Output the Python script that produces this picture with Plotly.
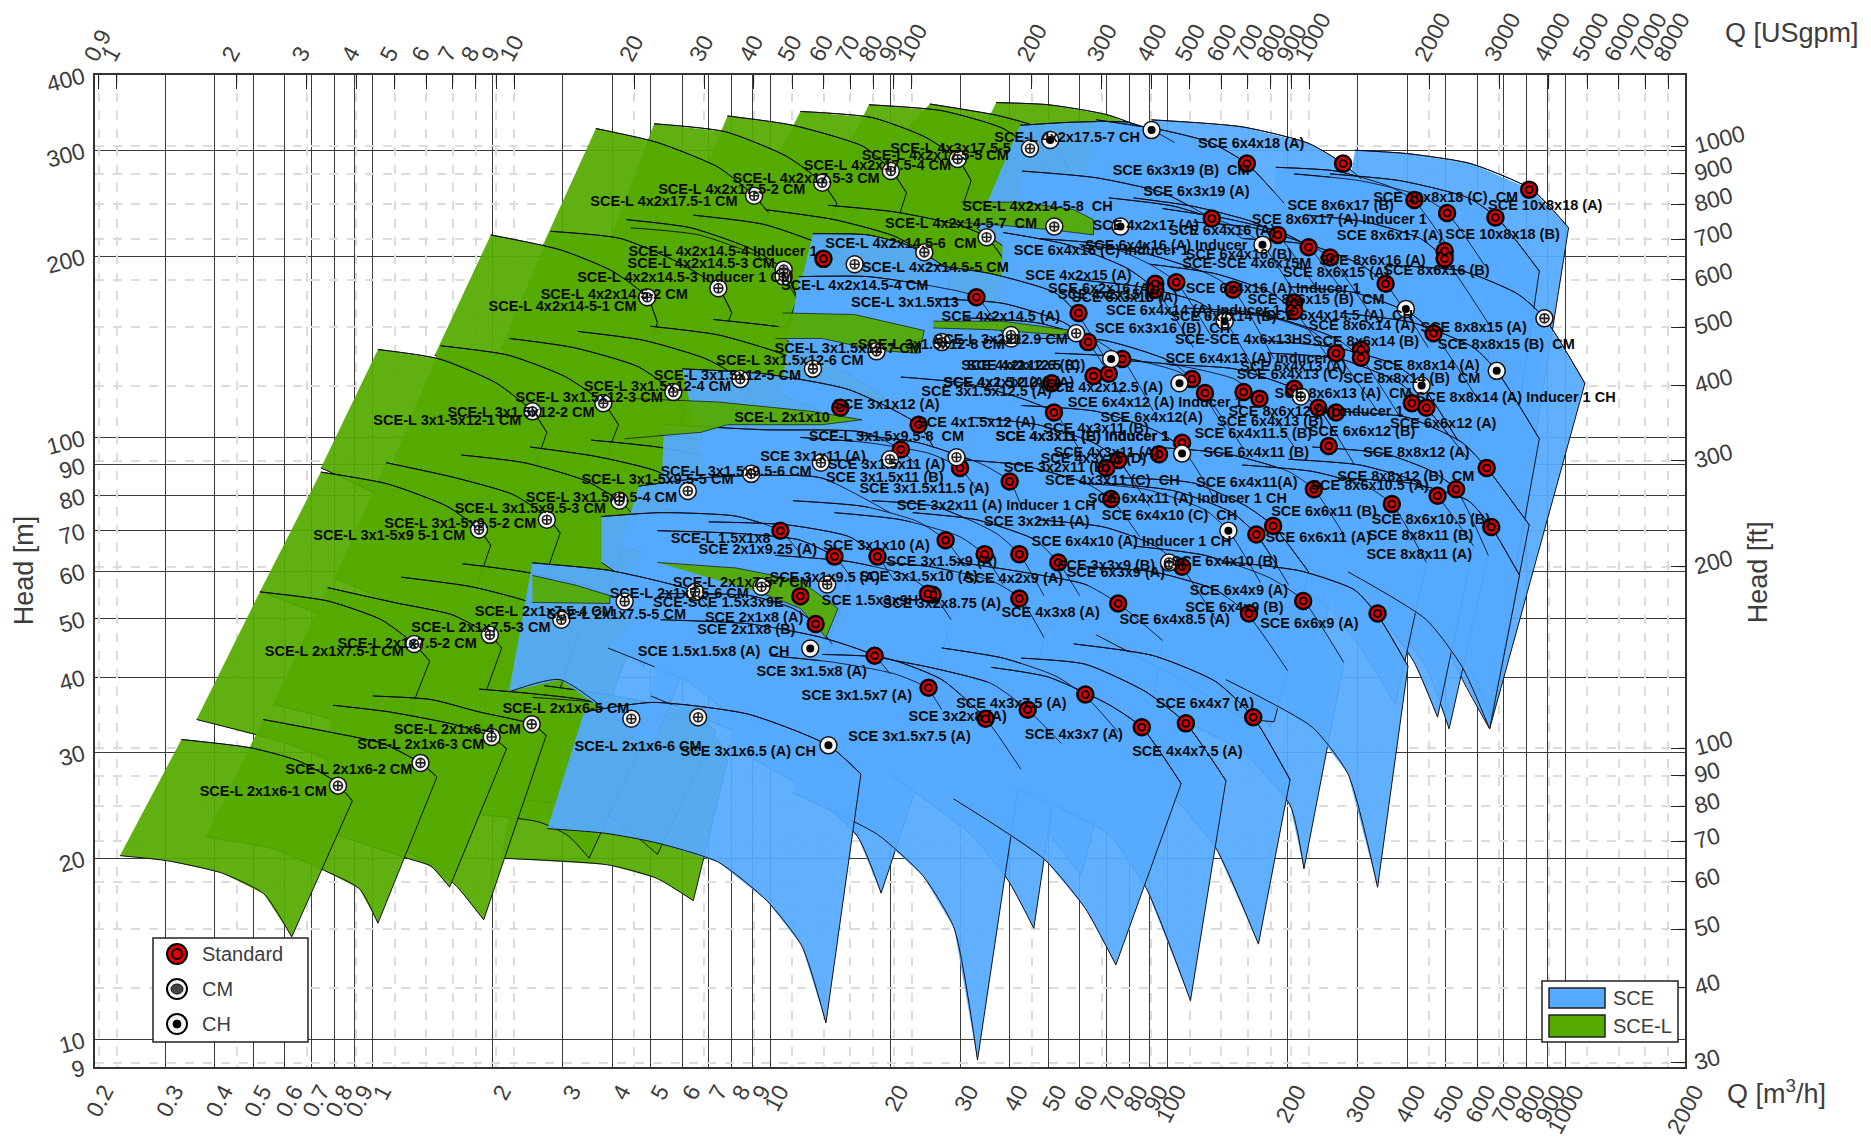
import plotly.graph_objects as go
import math

# ---------- axis ticks ----------
q_ticks = [0.2,0.3,0.4,0.5,0.6,0.7,0.8,0.9,1,2,3,4,5,6,7,8,9,10,20,30,40,50,60,70,80,90,100,200,300,400,500,600,700,800,900,1000,2000]
gpm_ticks = [0.9,1,2,3,4,5,6,7,8,9,10,20,30,40,50,60,70,80,90,100,200,300,400,500,600,700,800,900,1000,2000,3000,4000,5000,6000,7000,8000]
h_ticks = [9,10,20,30,40,50,60,70,80,90,100,200,300,400]
ft_ticks = [30,40,50,60,70,80,90,100,200,300,400,500,600,700,800,900,1000]

# ---------- SCE-L envelopes (Q m3/h, H m) ----------
a1_q=[.33,.494,.652,.805,.888,.625,.532,.417,.305,.231]; a1_h=[31.5,30.5,29,26.8,24.9,14.8,17.45,18.9,19.8,20.2]
a2_q=[.53,.78,1.06,1.318,1.45,1.03,.925,.74,.567,.38]; a2_h=[34,32.4,31,28.8,27.3,15.6,17.8,19.2,20.7,21.7]
a3_q=[.795,1.1,1.62,1.99,2.17,1.56,1.4,1.22,.71]; a3_h=[35.9,35,33.3,31.8,30.4,17.9,19.4,20,22.5]
a4_q=[1,1.4,1.85,2.51,2.73,1.9,1.62,1.4,.925]; a4_h=[37.2,36.7,35,33.4,32,15.8,18,19.4,22.9]
a5_q=[1.85,2.55,3.5,4.47,4.9,3.5,3.1,2.6,1.4]; a5_h=[38.2,37.5,36.5,34.1,32.4,20,21.8,23,24]
a6_q=[2.7,3.8,5.2,6.58,7.3,5.2,4.5,3.7,2.4]; a6_h=[38.7,37.5,36,34.3,32.5,20.3,22,24,25]
a7_q=[2.52,4.2,6.5,7.5,7.8,6.4,5.2,3.9,2.1]; a7_h=[37,36,34,31,29,17,18.5,19.5,20]
b1_q=[.52,.77,1.05,1.27,1.39,.99,.86,.61,.36]; b1_h=[55.4,53.5,49.8,45.4,42.5,24,28.1,31,34]
b2_q=[.77,1.13,1.59,1.96,2.11,1.5,1.3,.93,.56]; b2_h=[56.3,53.2,50.7,47,44.7,24,29,33,36]
b3_q=[1.18,1.77,2.49,2.98,3.28,2.33,1.97,1.38,.86]; b3_h=[58.6,56.5,53.2,49.8,46.5,24.5,28.8,34.3,41]
b4_q=[1.68,2.4,3.5,4.3,4.7,3.3,2.75,1.97,1.23]; b4_h=[61.7,59.8,56.5,53.2,49.8,26.3,30.1,36,43.4]
c1_q=[.74,1.09,1.54,1.85,1.98,1.41,1.2,.86,.52]; c1_h=[87.6,83.7,76.8,70.3,66.2,34.3,40.5,48.6,55.4]
c2_q=[1.08,1.59,2.25,2.74,2.96,2.1,1.77,1.26,.8]; c2_h=[90.8,85.9,80.4,73.9,69.4,36,42.5,51,58.4]
c3_q=[1.67,2.4,3.42,4.17,4.57,3.25,2.68,1.97,1.2]; c3_h=[93.5,90.8,84.8,78.5,73.9,39.6,46.4,54.6,61]
c4_q=[2.49,3.64,5.2,6.2,6.8,4.8,4,2.96,1.83]; c4_h=[96.4,93,87.8,81.5,76.8,41.5,48.6,57,63.7]
c5_q=[3.54,5.2,7.5,8.95,9.6,6.8,5.4,4.2,2.68]; c5_h=[99,96.4,92,87,82,44.7,52,59.8,66]
c6_q=[5.2,7.8,11.4,13.4,14.5,9.9,8.4,6,3.9]; c6_h=[101,98,94,91,85,45,53,61,67]
d1_q=[1.03,1.47,2.05,2.52,2.74,1.93,1.65,1.17,.74]; d1_h=[140,135,123,110.5,102,52,62.2,76.8,89]
d2_q=[1.48,2.19,3.06,3.8,4.15,2.86,2.44,1.77,1.13]; d2_h=[142,137,126,114,105,55.8,66,78.5,92]
d3_q=[2.21,3.2,4.66,5.7,6.1,4.35,3.6,2.68,1.65]; d3_h=[146,141,131,119,110.5,59.8,70,84,96.4]
d4_q=[3.28,4.8,6.9,8.4,9.1,6.6,5.3,4,2.49]; d4_h=[150,145,135,125,115,62.2,73,87.8,101]
d5_q=[5,7.4,10.6,12.8,13.9,9.9,8.2,6,3.76]; d5_h=[153,148,138,130,119,63.7,75,90,103]
d6_q=[7.2,10.3,15.8,18.5,20.2,14,12.2,8.9,5.2]; d6_h=[157,153,146,139,126,67,78.5,94,110.5]
e1_q=[1.98,2.96,4,4.9,5.2,3.76,3.2,2.4,1.43]; e1_h=[217,205,189,171,155,80,94,118,137]
e2_q=[2.8,4.2,5.9,7.4,8,5.3,4.66,3.42,2.1]; e2_h=[220,214,195,177,161,82,94,118,141]
e3_q=[4.35,6.3,8.9,10.8,11.7,8,6.8,5,3.06]; e3_h=[230,223,206,190,170,87.8,103,123,148]
e4_q=[4.45,6.6,9.3,10.8,11.8,8.2,7,5.2,3.2]; e4_h=[223,217,200,185,167,85.7,99,118,141]
e5_q=[6.4,9.6,13.5,16.3,17.4,12.2,10.3,7.5,4.66]; e5_h=[234,226,209,194,174,92,108,126,152]
e6_q=[9.7,14.5,20.5,24.4,27,19.5,16.5,11.8,7.4]; e6_h=[239,230,216,202,183,94,110.5,130,155]
e7_q=[14,20.5,30,35,40,28.5,23.6,18,10.6]; e7_h=[243,237,225,215,191,99,115,135,162]
f1_q=[3.64,5.2,7.4,9.1,9.9,7.1,5.9,4.35,2.68]; f1_h=[326,309,281,252,236,120.5,141,170,209]
f2_q=[5.1,7.7,11,13.5,14.7,10.6,8.9,6.6,3.9]; f2_h=[332,322,293,265,245,126,148,174,209]
f3_q=[7.8,11.4,17.2,20.1,22,16,13.5,9.9,5.9]; f3_h=[342,330,304,278,255,131,155,183,219]
f4_q=[11.9,18,24.4,29.6,32,22.8,20,14.5,8.6]; f4_h=[348,340,316,290,267,138,162,191,228]
f5_q=[17.7,27,38.5,45,48.8,34.4,28.9,22,13.1]; f5_h=[357,349,326,302,281,145,170,200,240]
f6_q=[25.2,37,45.5,51,56,41,34.4,25.2,15]; f6_h=[358,343,330,312,283,155,178,209,250]
f7_q=[37,50,71,91,97,69,58,42.8,28.5]; f7_h=[360,357,343,320,293,162,189,214,255]

# ---------- SCE envelopes ----------
s01_q=[3.4,5.07,8.8,14,16.9,13.8,12,9.8,7.4,5.2,3.85,2.75]; s01_h=[35,36.3,34.7,30.8,27.6,10.65,14.3,17,19.7,21.2,22,22.4]
s02_q=[10,14.5,20.5,24.7,27,19,16.6,12.7,7.8]; s02_h=[43.4,42.3,40.5,38.4,35.3,17.5,21.7,25.7,30.8]
s03_q=[5.3,8.9,13.5,18.2,20,16.6,13.5,9.6,5]; s03_h=[49.8,49,46.5,43.4,40.5,21.7,25.7,30.8,37.2]
s04_q=[2.52,3.9,5.3,6.47,7,5,4.2,2.96,2.2]; s04_h=[61.9,60.2,57.6,55.4,52,30.1,33.7,39.6,37.8]
s05_q=[5.3,8.9,11.4,13,14.3,10.3,8.6,6.3,3.9]; s05_h=[55,54.6,52,49,45.4,29,33,39,44.7]
s06_q=[13.5,19.5,27,34.8,42.7,33.2,29,24.2,18.6,11.4]; s06_h=[43.6,43,39.6,34.1,28.1,9.24,15.3,18.7,21.9,25.7]
s07_q=[17.6,25.2,36,44.4,54,46,39.6,32,19.9]; s07_h=[43.4,41.5,39,35.3,31,15.3,18.4,21.9,27.6]
s08_q=[27,38.5,52,62,75,60.5,49.5,41,25.2]; s08_h=[44.7,43,40.2,37.2,32.4,18.7,22.2,25.1,31.5]
s09_q=[36,50,71,86,108,74,62,49,28.9]; s09_h=[41.5,40,36,33,26.6,13.3,16.5,19.9,25.1]
s10_q=[42.8,62,88,111,140,114,88,71,41]; s10_h=[43,42,37.8,33.5,26.9,11.6,17.9,21.9,26.3]
s11_q=[58,92,132,164,203,169,132,104,58]; s11_h=[45.4,43.4,39.3,34.3,27,14.4,20.8,25.1,31.5]
s12_q=[28.9,42.8,62,75,97,82,71,50,27]; s12_h=[62.2,59.8,57,53,46,22.9,25.1,28.8,34.3]
s13_q=[18,25.2,36,42.3,48.8,41,34.4,27,17.2]; s13_h=[62.2,61,57.8,54.2,46.5,27.6,31.5,36,41.5]
s14_q=[10.3,15.8,22,25.6,28.5,22.8,20,15.8,9.6]; s14_h=[63.7,62.2,59,55,49.8,29,33,37.8,44.7]
s15_q=[62,92,132,158,200,185,154,108,66]; s15_h=[61,59.8,55.8,51,41,33.7,34.3,39.6,47]
s16_q=[82,124,181,219,277,220,203,154,88]; s16_h=[66,63.7,58.4,53.6,42.3,19.2,24.5,30.1,36]
s17_q=[140,216,295,337,402,337,284,231,140]; s17_h=[62.2,60,55.8,50.7,41.7,17.9,27.6,33,39.6]
s18_q=[272,415,570,651,767,645,551,447,284]; s18_h=[85.7,83.8,78.5,71,59,32.8,41.5,49.8,59.8]
s19_q=[231,351,462,531,640,510,447,362,231]; s19_h=[96.4,94,87.8,82,63.7,32.8,41.5,49.8,62.2]
s20_q=[201,304,415,477,588,477,415,337,216]; s20_h=[92,90,84.8,79.7,66,34.3,42.5,51,62]
s21_q=[154,231,315,366,447,374,315,256,164]; s21_h=[90,87.8,83,77.5,62,36,43.4,52,62]
s22_q=[92,140,201,233,279,231,199,164,101]; s22_h=[96.4,94,87.8,82,68.4,39.6,47.8,54.6,66]
s23_q=[265,400,551,634,811,651,570,432,265]; s23_h=[110.5,108,98,89,71.6,34.3,41.5,52,66]
s24_q=[181,272,384,447,570,477,415,326,201]; s24_h=[138,135,123,112,92,45.4,54.6,63.7,78.5]
s25_q=[272,415,588,672,860,704,606,462,284]; s25_h=[161,155,141,129,99.5,47.8,57,68.4,82]
s26_q=[362,551,760,886,1120,645,551,374]; s26_h=[193,189,173,158,123,32.8,39.6,68.4]
s27_q=[296,403,578,824,1019,651,570,432,231]; s27_h=[300,296,285,258,223,34.3,49.8,78.5,123]
s28_q=[91,154,226,276,306,231,194,154,88]; s28_h=[337,328,308,285,269,78.5,118,148,214]
s29_q=[66,97,128,158,196,154,132,104,58]; s29_h=[337,324,309,285,245,85.7,118,148,205]
s30_q=[42.5,58,79,91,104,88,71,54,33]; s30_h=[330,334,334,324,309,135,155,178,223]
s31_q=[43,66,97,129,154,124,104,82,38.5]; s31_h=[277,270,255,231,214,85.7,108,135,178]
s32_q=[187,265,362,417,525,351,326,247,173]; s32_h=[281,277,261,247,200,66,78.5,99,123]
s33_q=[256,384,570,672,860,627,525,374,231]; s33_h=[274,267,250,232,189,45.4,59.8,78.5,99]
s34_q=[208,304,432,504,627,510,432,326,194]; s34_h=[274,267,252,236,193,59.8,75,94,118]
s35_q=[82,116,164,189,239,194,164,124,71]; s35_h=[250,242,228,217,175,62,78.5,99,135]
s36_q=[97,140,194,226,284,231,194,147,88]; s36_h=[240,231,219,207,170,59.8,75,90,123]
s37_q=[116,164,226,256,326,265,226,169,104]; s37_h=[228,223,209,199,159,54.6,68.4,85.7,118]
s38_q=[226,315,432,497,651,551,462,351,216]; s38_h=[234,228,214,198,152,53,62,78.5,103]
s39_q=[154,226,304,353,452,351,295,226,140]; s39_h=[214,209,194,180,141,52,62,75,94]
s40_q=[201,295,406,466,606,462,384,295,181]; s40_h=[178,174,161,149,115,47.8,57,68.4,82]
s41_q=[128,187,265,306,384,304,256,194,119]; s41_h=[162,158,146,135.6,108,49.8,59.8,70,85.7]
s42_q=[112,164,231,265,337,265,226,169,104]; s42_h=[164,161,150,138,110.5,52,62,75,88]
s43_q=[60,88,126,146,185,154,132,104,54]; s43_h=[209,202,187,176,135,72,82,99,123]
s44_q=[90,132,181,208,265,208,173,137,82]; s44_h=[194,187,174,162,130,59.8,72,82,103]
s45_q=[47,69,90,105,128,108,90,71,41]; s45_h=[214,209,194,181,148,72,85.7,99,123]
s46_q=[38.5,56,79,93,116,97,82,64,37]; s46_h=[219,209,191,176,141,68.4,80,92,115]
s47_q=[25,36,52,59,74,62,52,43,24]; s47_h=[194,187,174,161,126,72,82,94,113]
s48_q=[11.8,17.6,26,33,40.4,32,27,22,10.6]; s48_h=[185,185,178,171,141,72,82,94,118]
s49_q=[12.8,17.6,22,24.4,28.5,23.6,20.5,17.2,11]; s49_h=[218,217,209,202,189,103,113,123,145]
s50_q=[6,9.6,15.8,23.6,25.7,18.6,15.8,11.8,7]; s50_h=[130,127.6,120,105,96.4,52,59.8,70,82]
s51_q=[5.4,9.6,17.2,21.3,23.6,17.2,14.5,10.3,5.3]; s51_h=[105,103,102,95.5,89,49.8,57,66,76.8]
s52_q=[11.9,17.6,25.2,30,33,24.4,20.5,15.8,9.6]; s52_h=[100,98,94,89,82,45.4,53,62,71.6]
s53_q=[4.66,6.8,9.6,13.4,20,22,16.5,13.5,10.3,4.2]; s53_h=[83,85.7,86.5,85.7,75,70,41.5,47.8,54.6,66]
s54_q=[16.5,23.6,34.4,40,42.8,31,27,19.9,11.8]; s54_h=[101,98,90,84.5,76.8,41.5,47.8,55.8,62]
s55_q=[3.76,5.3,8.2,10.6,11.7,8.6,7.4,5.3,3.76]; s55_h=[73.9,75,74,70,65,39.6,45.4,53,62]
s56_q=[5.2,8.2,11.8,14.5,16,11.4,9.6,7.4,3.76]; s56_h=[70,69.3,67.6,63.4,58.4,31.5,37,44.7,52]
s57_q=[7,11,15.8,18.6,20.5,14.5,12.7,9.6,5.4]; s57_h=[72.4,71.6,68.4,63.4,57.8,31.5,36,43.4,52]
s58_q=[11.4,17.2,23.6,27.6,31,22.8,19.5,14.5,8.9]; s58_h=[78.5,76.8,72.4,67.5,61,34.3,39.6,46.5,55.8]
s59_q=[14.5,21.3,30,34.4,38.5,28.5,23.6,17.6,11.4]; s59_h=[75,73,68.4,64,57,31.5,36,43.4,52]
s60_q=[18,26,37,42.3,48.8,34.4,28.9,22.8,14.5]; s60_h=[78.5,76.8,69.3,64,54.6,33,36,43.4,52]
s61_q=[22.8,33,46.3,53,60,50,41,31,19.9]; s61_h=[75,73,67.6,62,54.6,31.5,36,41.5,49.8]
s62_q=[47,69,92,108,132,108,90,69,41]; s62_h=[73,71,66.3,61,49.8,27.6,31.5,37,45.4]
s63_q=[69,104,145,167,201,158,132,104,64]; s63_h=[84,81.5,75,69,57,30.1,34.3,40.5,49.8]
s64_q=[76,116,158,184,226,181,154,119,71]; s64_h=[85.7,84,76.8,71.3,59.8,33,37.8,43.4,52]
s65_q=[28.9,42.5,62,72,85,66,56,42.5,27]; s65_h=[92,90,84,79,68.4,39.6,45.4,53,62]
s66_q=[42.8,66,92,108,132,104,88,69,41]; s66_h=[113,110.5,103,96.4,78.5,41.5,48.6,57,68.4]
s67_q=[32,47,65,75,90,74,62,47,28.9]; s67_h=[108,105,98,91.7,76.8,45.4,52,59.8,71.6]
s68_q=[21.3,31,43,51.7,62,50,42.5,32,19.9]; s68_h=[126,123,116,110,92,54.6,62,71.6,82]
s69_q=[31,47,66,76.8,92,74,62,47,28.9]; s69_h=[158,155,145,135,110.5,57,67,78.5,92]
s70_q=[26,38.5,55,63,76,60,50,38.5,23.6]; s70_h=[170,167,155,144,118,62,71.6,84,99]
s71_q=[52,76,108,124,154,119,101,79,47]; s71_h=[138,136,128,118,96.4,51,59.8,70,82]
s72_q=[69,104,147,170,208,164,137,108,64]; s72_h=[135,132,125,116,96.4,52,59.8,70,82]
s73_q=[101,147,208,239,295,231,194,154,90]; s73_h=[132,130,120.5,112,90,49.8,57,67,78.5]
s74_q=[47,69,101,115,140,116,97,74,42.8]; s74_h=[146,145,134,125,103,57,67,76.8,90]
s75_q=[173,265,374,435,536,432,362,272,164]; s75_h=[145,141,132,122,99,52,59.8,71.6,85.7]
s76_q=[58,85,119,139,169,137,116,88,54]; s76_h=[183,178,168,156,126,66,76.8,90,105]
s77_q=[60,88,124,142,171,137,116,90,56]; s77_h=[84,82,75.8,70,57.4,31.5,36,43.4,52]
s78_q=[71,104,150,173,216,169,140,108,64]; s78_h=[250,242,223,209,167,72,85.7,103,132]

# ---------- SCE-L patches lying over SCE ----------
g1_q=[2.52,3.25,3.95,3.95,2.52]; g1_h=[59,56.8,54.6,53,53.2]
g2_q=[4.57,7.4,12.7,17,13.5,7.8,6.7,4.3]; g2_h=[116,114.5,110.5,107,105,105,102,99.5]
g3_q=[5.2,8.2,11.9,14.8,13.8,11.9,9.6]; g3_h=[62,60.7,57.8,52,46.5,52,55]
g4_q=[30.2,42.8,58,65,65,52,38.5,28.9]; g4_h=[246,246,239,230,217,221,225,228]
g5_q=[10.7,16.3,24.4,23.6,18.6,13.5,10.3]; g5_h=[161,160,150.5,138,139.5,146,146]
g6_q=[25.7,38.5,57.5,54,36,25.7]; g6_h=[156,156,150.5,148,151,152]

# ---------- duty points ----------
std_q=[158,276,811,417,504,667,129,189,226,256,497,497,353,93,93,105,146,33,59.6,208,208,466,63,76.8,265,306,306,115,65,71,51,124,155,170,208,239,265,411,447,51.7,254,108.6,95,75,70,634,30,40,72,233,366,477,531,651,184,167,27.6,34.6,42.3,53,108.6,42.3,25.6,75,219,160,337,62,44.4,34.8,86,111,164,25,13.6,15,23.6,21.3,10.6,14.5,18.6,11.9,13,18.3,24.9]
std_h=[285,285,258,248,236,232,231,217,207,199,204,198,180,180,176,181,176,171,161,167.5,162,149,144,135,138,140,135.6,125,126.5,127.6,123,118.5,119,116,120.5,112,110,114,112,110,96.8,98,93.8,91.7,89,89,89,84.5,79,82,77.5,80,82,71,71.3,69,67.5,64,64,62,61,54,54.8,53,53.5,51,51,37.4,35.3,34.1,33,33.5,34.3,38.4,198,112,105,95.5,70,63.4,63.4,54.5,49,43.4,55]
cm_q=[.817,1.318,1.99,2.51,4.47,6.58,1.27,1.97,2.98,4.3,6.47,9.5,13.9,1.85,2.74,4.17,6.2,8.95,13.4,20,2.52,3.8,5.7,8.4,12.8,18.5,27,40.4,29.4,4.9,7.4,10.8,10.8,16.3,24.4,9.1,13.5,20.1,29.6,45,51.8,35,886,58.8,40.3,216,100.7]
cm_h=[26.4,28.8,31.8,33.4,34.1,34.3,45.4,47,49.8,53.4,55.4,56.5,57,70.3,73,78.5,81.5,87,90.8,92,110.5,114,119,125,130,139,144,146,92.7,171,177,190,185,194,203,252,265,277,290,302,224,215,157.7,149,148,117,62]
ch_q=[50.6,91,76,173,397,672,435,139,72,107,108.6,142,12.6,14]
ch_h=[312,324,224,209,163.5,129,122,156,135,123,94,70,44.6,30.8]

# ---------- labels ----------
label_text=["SCE-L 2x1x6-1 CM","SCE-L 2x1x6-2 CM","SCE-L 2x1x6-3 CM","SCE-L 2x1x6-4 CM","SCE-L 2x1x6-5 CM","SCE-L 2x1x6-6 CM","SCE 3x1x6.5 (A) CH","SCE 3x1.5x7.5 (A)","SCE 3x2x8 (A)","SCE 3x1.5x7 (A)","SCE 3x1.5x8 (A)","SCE 1.5x1.5x8 (A)  CH","SCE 2x1x8 (B)","SCE 2x1x8 (A)","SCE-SCE 1.5x3x9E","SCE 1.5x3x9H","SCE 3x1x9.5 (A)","SCE-L 2x1x7.5-7 CM","SCE-L 2x1x7.5-6 CM","SCE-L 2x1x7.5-5 CM","SCE-L 2x1x7.5-4 CM","SCE-L 2x1x7.5-3 CM","SCE-L 2x1x7.5-2 CM","SCE-L 2x1x7.5-1 CM",
"SCE-L 3x1-5x9 5-1 CM","SCE-L 3x1-5x9.5-2 CM","SCE-L 3x1.5x9.5-3 CM","SCE-L 3x1.5x9.5-4 CM","SCE-L 3x1-5x9.5-5 CM","SCE-L 3x1.5x9.5-6 CM","SCE 3x1x11 (A)","SCE-L 3x1.5x9.5-8  CM","SCE 3x1.5x11 (A)","SCE 3x1.5x11 (B)","SCE 3x1.5x11.5 (A)","SCE 3x2x11 (A) Inducer 1 CH","SCE 3x2x11 (A)",
"SCE-L 3x1-5x12-1 CM","SCE-L 3x1.5x12-2 CM","SCE-L 3x1.5x12-3 CM","SCE-L 3x1.5x12-4 CM","SCE-L 3x1.5x12-5 CM","SCE-L 3x1.5x12-6 CM","SCE-L 3x1.5x12-7 CM","SCE-L 3x1.5x12-8 CM","SCE-L 3x2x12.9 CM","SCE 3x1x12 (A)","SCE-L 2x1x10","SCE 4x1.5x12 (A)","SCE 4x3x11 (B) Inducer 1",
"SCE-L 4x2x14.5-4 Inducer 1","SCE-L 4x2x14.5-3 CM","SCE-L 4x2x14.5-3 Inducer 1 CM","SCE-L 4x2x14.5-2 CM","SCE-L 4x2x14-5-1 CM","SCE-L 3x1.5x13","SCE-L 4x2x14.5-4 CM","SCE-L 4x2x14.5-5 CM","SCE-L 4x2x14.5-6  CM","SCE 4x2x14.5 (A)",
"SCE-L 4x2x17.5-1 CM","SCE-L 4x2x17.5-2 CM","SCE-L 4x2x17.5-3 CM","SCE-L 4x2x17.5-4 CM","SCE-L 4x3x17.5-5","SCE-L 4x2x17.5-5 CM","SCE-L 4x2x17.5-7 CH","SCE 6x4x18 (A)","SCE 6x3x19 (B)  CM","SCE 6x3x19 (A)","SCE-L 4x2x14-5-8  CH","SCE-L 4x2x14-5-7  CM","SCE 4x2x17 (A)","SCE 6x4x16 (A)","SCE 8x6x17 (B)","SCE 8x6x17 (A) Inducer 1","SCE 8x6x17 (A)","SCE 10x8x18 (C)  CM","SCE 10x8x18 (A)","SCE 10x8x18 (B)",
"SCE 6x4x16 (A) Inducer","SCE 6x4x16 (C) Inducer 1","SCE 6x4x16 (B)","SCE-SCE 4x6x15M","SCE 8x6x16 (A)","SCE 8x6x16 (B)","SCE 8x6x15 (A)","SCE 4x2x15 (A)","SCE 6x2x16 (A)","SCE 4x2x15 (B)","SCE 6x3x16 (A)","SCE 6x4x16 (A) Inducer 1","SCE 8x6x15 (B)  CM","SCE 6x4x14.5 (A)  CH","SCE 6x4x14 (A) Inducer 1","SCE 6x3x16 (B)  CH","SCE 6x4x14 (B)","SCE 8x6x14 (A)","SCE 8x6x14 (B)","SCE 8x8x15 (A)","SCE 8x8x15 (B)  CM","SCE-SCE 4x6x13HS","SCE 6x4x13 (A) Inducer","SCE 6x4x13 (A)","SCE 6x4x13 (C)","SCE 8x6x13 (A)  CM","SCE 8x8x14 (A)","SCE 8x8x14 (B)  CM","SCE 8x8x14 (A) Inducer 1 CH",
"SCE 6x4x12 (A) Inducer 1","SCE 6x4x12(A)","SCE 4x3x11 (B)","SCE 4x3x11 (E) Inducer 1","SCE 4x3x11 (A)","SCE 4x3x11 (D)","SCE 3x2x11 (B)","SCE 4x3x11 (C)  CH","SCE 6x4x11 (A) Inducer 1 CH","SCE 6x4x10 (C)  CH","SCE 6x4x11(A)","SCE 6x4x11 (B)","SCE 6x4x11.5 (B)","SCE 6x4x13 (B)","SCE 8x6x12 (A) Inducer 1","SCE 6x6x12 (B)","SCE 6x6x12 (A)","SCE 8x8x12 (A)","SCE 8x8x12 (B)  CM","SCE 8x6x10.5 (A)","SCE 6x6x11 (B)","SCE 8x6x10.5 (B)","SCE 6x6x11 (A)","SCE 8x8x11 (B)","SCE 8x8x11 (A)",
"SCE 6x4x10 (A) Inducer 1 CH","SCE 6x4x10 (B)","SCE 6x4x9 (A)","SCE 6x4x9 (B)","SCE 6x6x9 (A)","SCE 6x4x8.5 (A)","SCE 4x3x8 (A)","SCE 3x2x8.75 (A)","SCE 3x3x9 (B)  CH","SCE 6x3x9 (A)","SCE 4x2x9 (A)","SCE 3x1.5x9 (A)","SCE 3x1.5x10 (A)","SCE 3x1x10 (A)","SCE 2x1x9.25 (A)","SCE-L 1.5x1x8","SCE 6x4x7 (A)","SCE 4x3x7.5 (A)","SCE 4x3x7 (A)","SCE 4x4x7.5 (A)",
"SCE 4x2x12.6 (B)","SCE 4x2x12.5 (C)","SCE 4x1.5x12.6 (A)","SCE 3x1.5x12.5 (A)","SCE 4x2x12.5 (A)","SCE 4x2x12 (A)"]
label_q=[.53,.87,1.32,1.63,3.06,4.65,8.8,22.4,29.6,16.5,12.7,7.2,8.7,9.1,7.4,17.8,13.7,8.5,5.9,4.1,2.7,1.87,1.22,.8,
1.1,1.66,2.49,3.76,5.2,8.2,12.8,19.6,19.6,19.4,24.4,37,46.8,
1.54,2.36,3.5,5.2,7.8,11.2,15.7,25.4,38,19.6,10.7,33,61,
7.6,6.7,6.1,4.05,3,21.8,16.3,26,21.3,38,
5.4,8,12.3,18.6,28.4,26,55.8,162,108,118,47,30.2,88,137,272,270,362,500,890,695,
99,68,151,158,327,474,265,59.6,68,72,78,184,236,270,116,97,138,308,315,588,710,155,158,207,203,276,447,411,750,
93,91,66,61,70,65,52.5,72.5,112,101,158,167,164,181,236,308,493,422,397,322,247,459,239,432,429,
81,139,151,147,227,104,50.7,27,76,74,41,27,23.6,18.5,9.3,7.5,124,40.4,58,112,
42.6,44,39.8,35,69,37]
label_h=[25.7,28,30.8,32.6,35.4,30.6,30,31.8,34.3,37.1,40.7,44,47.8,50,53,53.5,58.4,57.3,54.8,50.7,51.3,48.1,45.4,43.9,
68.4,71.7,76,79.3,84.9,87.5,92.7,100,90,85.6,82,76.8,72.4,
106.5,109.7,116,121,126.5,134,140,142,145,113,107.5,105.5,100,
203,194,184,172,164.5,167,178,191,209,158,
246,257,268,282,301,293,314,307,277,255,241,226,224,220,242,229,216,250,242,217,
208,204,201,194,196,189,187,185,176,172,170,176,169,159,162,151,158,153,144,152,142,145,135,130.5,127,118,131,125,116,
114,107.5,103,100,94,92,89,84.5,79,74,84,94,101,106,110,102,105,94,86,83,75,72.8,68,68.4,63.7,
67,62,55.4,52,49,49.6,51,52.8,61,59.5,58,62,58.5,66,65,67.7,36,36,32,30,
131,131,123,119,120.5,123]

# top rows are painted first, so the lower rows lie over them
GREEN_BASE=[(f7_q,f7_h),(f6_q,f6_h),(f5_q,f5_h),(f4_q,f4_h),(f3_q,f3_h),(f2_q,f2_h),(f1_q,f1_h),
 (e7_q,e7_h),(e6_q,e6_h),(e5_q,e5_h),(e4_q,e4_h),(e3_q,e3_h),(e2_q,e2_h),(e1_q,e1_h),
 (d6_q,d6_h),(d5_q,d5_h),(d4_q,d4_h),(d3_q,d3_h),(d2_q,d2_h),(d1_q,d1_h),
 (c6_q,c6_h),(c5_q,c5_h),(c4_q,c4_h),(c3_q,c3_h),(c2_q,c2_h),(c1_q,c1_h),
 (b4_q,b4_h),(b3_q,b3_h),(b2_q,b2_h),(b1_q,b1_h),
 (a7_q,a7_h),(a6_q,a6_h),(a5_q,a5_h),(a4_q,a4_h),(a3_q,a3_h),(a2_q,a2_h),(a1_q,a1_h)]
ns=globals()
BLUE=[(ns[f"s{i:02d}_q"],ns[f"s{i:02d}_h"]) for i in range(1,79)]
BLUE.sort(key=lambda p:(-p[1][3],-p[0][3]))
GREEN_TOP=[(g1_q,g1_h),(g2_q,g2_h),(g3_q,g3_h),(g4_q,g4_h),(g5_q,g5_h),(g6_q,g6_h)]

C_BLUE="rgba(85,170,255,0.93)"; C_GREEN="rgba(85,170,0,0.93)"
FONT="Liberation Sans"; AX="#3c3c3c"; EDGE="#101018"
fig=go.Figure()
def env(p,color):
    q,h=list(p[0]),list(p[1])
    fig.add_trace(go.Scatter(x=q,y=h,mode="none",fill="toself",fillcolor=color,hoverinfo="skip",showlegend=False))
    fig.add_trace(go.Scatter(x=q[:5]+[None]+q[5:],y=h[:5]+[None]+h[5:],mode="lines",line=dict(color=EDGE,width=1,shape="spline",smoothing=0.6),hoverinfo="skip",showlegend=False))
    fig.add_trace(go.Scatter(x=q[4:6],y=h[4:6],mode="lines",line=dict(color=EDGE,width=1),hoverinfo="skip",showlegend=False))
def patch(p,color):
    fig.add_trace(go.Scatter(x=p[0],y=p[1],mode="lines",fill="toself",fillcolor=color,line=dict(color=EDGE,width=0.7),hoverinfo="skip",showlegend=False))
def arcs(group):
    lx=[];ly=[]
    for p in group:
        lx+=list(p[0][:5])+[None]; ly+=list(p[1][:5])+[None]
    fig.add_trace(go.Scatter(x=lx,y=ly,mode="lines",line=dict(color="rgba(10,10,30,0.85)",width=1,shape="spline",smoothing=0.6),hoverinfo="skip",showlegend=False))
for p in GREEN_BASE: env(p,C_GREEN)
arcs(GREEN_BASE)
for p in BLUE: env(p,C_BLUE)
arcs(BLUE)
for p in GREEN_TOP: patch(p,C_GREEN)

def pts(q,h,size,sym,fill,lc,lw):
    fig.add_trace(go.Scatter(x=q,y=h,mode="markers",marker=dict(size=size,symbol=sym,color=fill,line=dict(color=lc,width=lw)),hoverinfo="skip",showlegend=False))
pts(std_q,std_h,16,"circle","#e00000","#000",2.5)
pts(std_q,std_h,7,"circle","#e00000","#000",2)
pts(cm_q,cm_h,17,"circle","#f4f4f4","#111",1.5)
pts(cm_q,cm_h,9,"circle-cross-open","#222","#222",1.6)
pts(ch_q,ch_h,17,"circle","#f4f4f4","#111",1.5)
pts(ch_q,ch_h,8,"circle","#000","#000",0)
fig.add_trace(go.Scatter(x=label_q,y=label_h,text=label_text,mode="text",textposition="middle center",
    textfont=dict(family=FONT,size=14.5,color="#0a0a0a",weight=700),hoverinfo="skip",showlegend=False))
# carrier for the USgpm / ft axes
fig.add_trace(go.Scatter(x=[1,10],y=[100,200],xaxis="x2",yaxis="y2",mode="lines",line=dict(width=0),opacity=0,hoverinfo="skip",showlegend=False))

L,R,T,B=95,1685,74.5,1067
conv_q=0.22712; conv_h=0.3048
tf=dict(family=FONT,size=23,color=AX)
fig.update_layout(width=1871,height=1138,margin=dict(l=L,r=1871-R,t=T,b=1138-B,autoexpand=False),paper_bgcolor="white",plot_bgcolor="white",showlegend=False,
 xaxis=dict(type="log",range=[math.log10(.2),math.log10(2000)],tickmode="array",tickvals=q_ticks,ticktext=[str(v) for v in q_ticks],tickangle=-62,tickfont=tf,ticklabelshift=9,showgrid=True,gridcolor="#3a3a3a",gridwidth=1,ticks="",zeroline=False,showline=True,linecolor="#333",linewidth=2,mirror=True),
 yaxis=dict(type="log",range=[math.log10(9),math.log10(400)],tickmode="array",tickvals=h_ticks,ticktext=[str(v) for v in h_ticks],tickangle=-15,tickfont=tf,ticklabelstandoff=5,showgrid=True,gridcolor="#3a3a3a",gridwidth=1,ticks="",zeroline=False,showline=True,linecolor="#333",linewidth=2,mirror=True),
 xaxis2=dict(type="log",overlaying="x",side="top",range=[math.log10(.2/conv_q),math.log10(2000/conv_q)],tickmode="array",tickvals=gpm_ticks,ticktext=[str(v) for v in gpm_ticks],tickangle=-62,tickfont=tf,ticklabelshift=-12,showgrid=True,gridcolor="#dcdcdc",gridwidth=1.5,griddash="dash",ticks="inside",ticklen=14,tickcolor="#222",tickwidth=1,zeroline=False),
 yaxis2=dict(type="log",overlaying="y",side="right",range=[math.log10(9/conv_h),math.log10(400/conv_h)],tickmode="array",tickvals=ft_ticks,ticktext=[str(v) for v in ft_ticks],tickangle=-15,tickfont=tf,ticklabelstandoff=8,showgrid=True,gridcolor="#dcdcdc",gridwidth=1.5,griddash="dash",ticks="inside",ticklen=14,tickcolor="#222",tickwidth=1,zeroline=False))

fx=lambda px:(px-L)/(R-L); fy=lambda py:1-(py-T)/(B-T)
def note(t,x,y,size=27,rot=0,anchor="center"):
    fig.add_annotation(text=t,xref="paper",yref="paper",x=fx(x),y=fy(y),showarrow=False,textangle=rot,xanchor=anchor,yanchor="middle",font=dict(family=FONT,size=size,color=AX))
note("Head [m]",24,570,rot=-90); note("Head [ft]",1758,572,rot=-90)
note("Q [USgpm]",1792,32); note("Q [m<sup>3</sup>/h]",1776,1092)
def box(x0,y0,x1,y1,fill,lc="#222",lw=1.5,kind="rect"):
    fig.add_shape(type=kind,xref="paper",yref="paper",x0=fx(x0),x1=fx(x1),y0=fy(y0),y1=fy(y1),fillcolor=fill,line=dict(color=lc,width=lw),layer="above")
box(153,938,308,1042,"white")
for yy,name in [(954,"Standard"),(989,"CM"),(1024,"CH")]:
    note(name,200,yy,size=20,anchor="left")
    box(167,yy-10,187,yy+10,"#e00000" if name=="Standard" else "#f4f4f4","#000",2,"circle")
box(172,949,182,959,"#e00000","#000",2,"circle")
box(171,984,183,994,"#444","#111",1,"circle"); box(173,1020,181,1028,"#000","#000",1,"circle")
box(1542,981,1678,1042,"white")
box(1549,988,1605,1008,"#55AAFF"); box(1549,1015,1605,1037,"#55AA00")
note("SCE",1611,998,size=20,anchor="left"); note("SCE-L",1611,1026,size=20,anchor="left")

fig.write_html("out.html",config={"displayModeBar":False},post_script="document.body.style.margin='0';document.body.style.overflow='hidden';")
